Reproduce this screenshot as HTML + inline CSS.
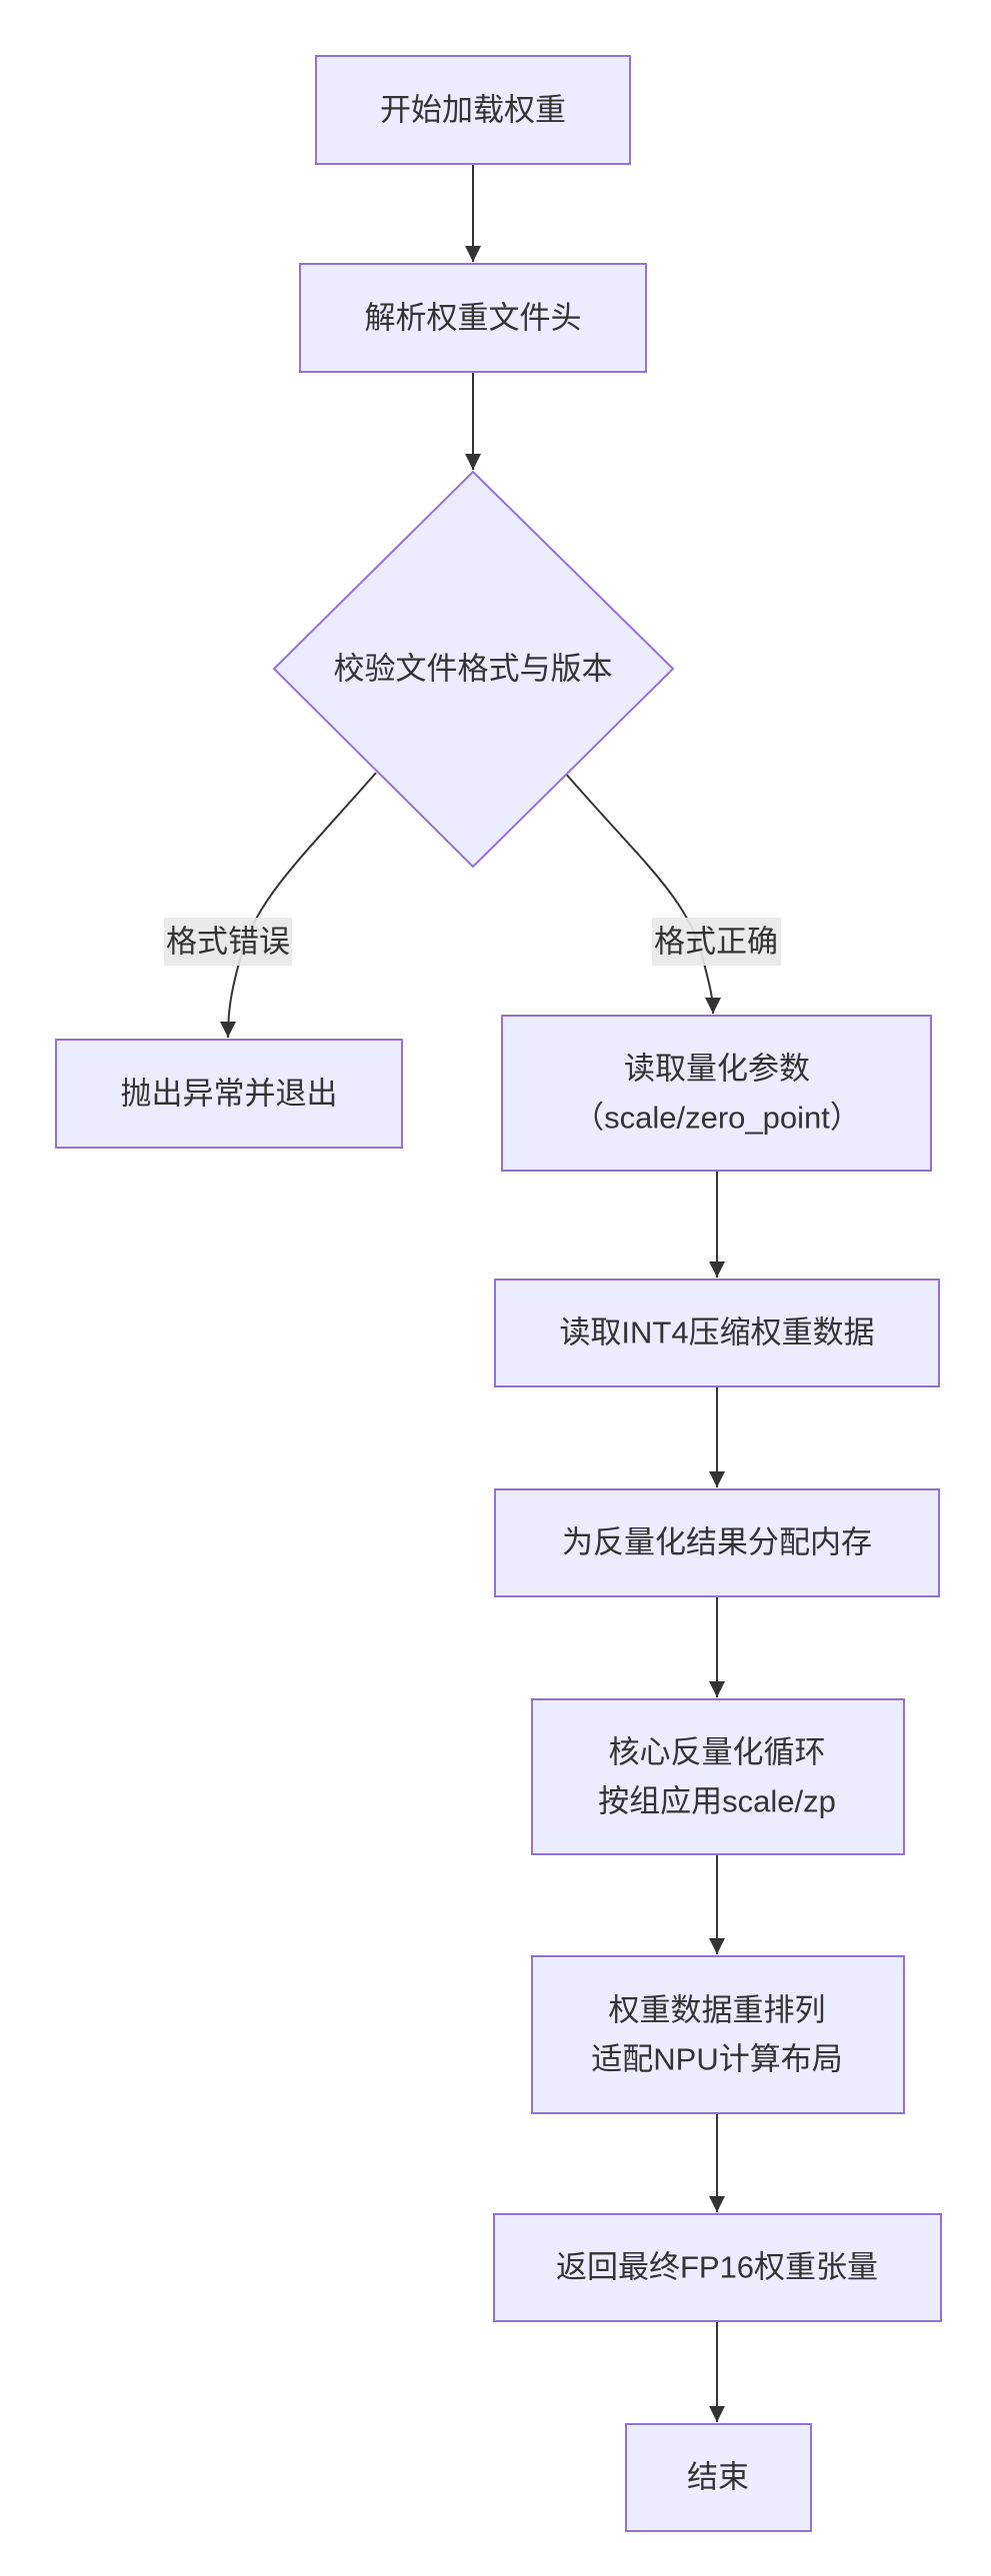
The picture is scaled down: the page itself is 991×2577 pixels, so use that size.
<!DOCTYPE html>
<html><head><meta charset="utf-8"><style>
html,body{margin:0;padding:0;background:#fff;}
svg text{font-family:"Liberation Sans","Noto Sans CJK SC",sans-serif;font-size:31px;fill:#333;text-anchor:middle;dominant-baseline:central;}
</style></head><body>
<svg width="991" height="2572" viewBox="0 0 991 2572" xmlns="http://www.w3.org/2000/svg">
<defs><marker id="a" viewBox="0 0 10 10" refX="10" refY="5" markerWidth="16" markerHeight="16" markerUnits="userSpaceOnUse" orient="auto"><path d="M0,0L10,5L0,10z" fill="#333"/></marker></defs>
<g stroke="#333" stroke-width="2" fill="none" marker-end="url(#a)">
<path d="M473,164V262"/>
<path d="M473,372V470"/>
<path d="M376,773 C300,860 255,900 240,960 C230,995 228,1015 228,1038"/>
<path d="M565,773 C640,860 690,900 703,960 C711,990 713,1000 713,1014"/>
<path d="M717,1171V1278"/>
<path d="M717,1387V1488"/>
<path d="M717,1597V1698"/>
<path d="M717,1855V1955"/>
<path d="M717,2114V2213"/>
<path d="M717,2322V2423"/>
</g>
<g fill="#ececff" stroke="#9370db" stroke-width="2">
<rect x="316" y="56" width="314" height="108"/>
<rect x="300" y="264" width="346" height="108"/>
<polygon points="473,472 673,669 473,867 274,669"/>
<rect x="56" y="1040" width="346" height="108"/>
<rect x="502" y="1016" width="429" height="155"/>
<rect x="495" y="1280" width="444" height="107"/>
<rect x="495" y="1490" width="444" height="107"/>
<rect x="532" y="1700" width="372" height="155"/>
<rect x="532" y="1957" width="372" height="157"/>
<rect x="494" y="2215" width="447" height="107"/>
<rect x="626" y="2425" width="185" height="107"/>
</g>
<rect x="164" y="918" width="128" height="48" fill="#e8e8e8" opacity="0.9"/>
<rect x="652" y="918" width="129" height="48" fill="#e8e8e8" opacity="0.9"/>
<text x="473" y="110">开始加载权重</text>
<text x="473" y="318">解析权重文件头</text>
<text x="473" y="669">校验文件格式与版本</text>
<text x="228" y="942">格式错误</text>
<text x="716" y="942">格式正确</text>
<text x="229" y="1094">抛出异常并退出</text>
<text x="717" y="1069">读取量化参数</text>
<text x="717" y="1118">（scale/zero_point）</text>
<text x="717" y="1333">读取INT4压缩权重数据</text>
<text x="717" y="1543">为反量化结果分配内存</text>
<text x="717" y="1753">核心反量化循环</text>
<text x="717" y="1802">按组应用scale/zp</text>
<text x="717" y="2011">权重数据重排列</text>
<text x="717" y="2060">适配NPU计算布局</text>
<text x="717" y="2268">返回最终FP16权重张量</text>
<text x="718" y="2478">结束</text>
</svg>
</body></html>
